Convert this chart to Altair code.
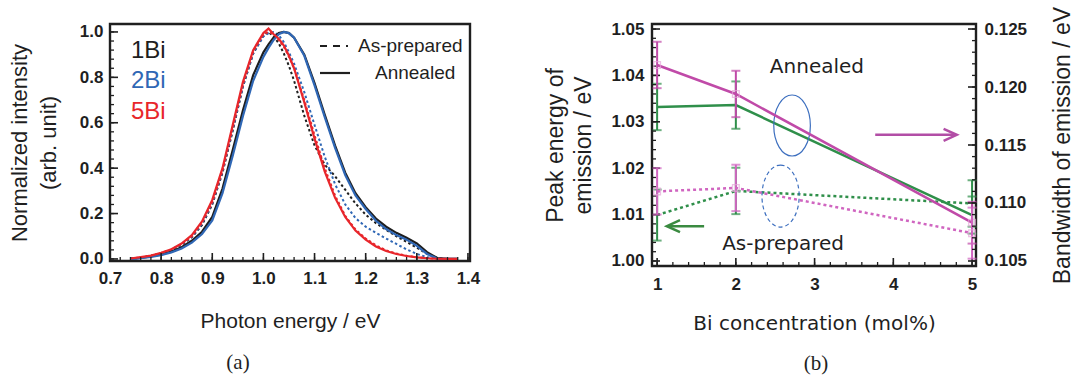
import altair as alt
import pandas as pd

FONT = "Liberation Sans"
INK = "#1f1f1f"

# ---------------- Panel (a): normalized emission spectra ----------------
energy = [0.74, 0.76, 0.78, 0.80, 0.82, 0.84, 0.86, 0.88, 0.90, 0.92, 0.94, 0.96, 0.98,
          1.00, 1.01, 1.02, 1.03, 1.04, 1.05, 1.06,
          1.08, 1.10, 1.12, 1.14, 1.16, 1.18, 1.20, 1.22, 1.24, 1.26, 1.28, 1.30, 1.32, 1.34, 1.36, 1.38]

bi1_asprep = [0.001, 0.006, 0.013, 0.024, 0.040, 0.062, 0.095, 0.150, 0.240, 0.380, 0.565, 0.760, 0.905,
              0.985, 1.000, 0.980, 0.950, 0.905, 0.850, 0.785,
              0.630, 0.500, 0.415, 0.365, 0.305, 0.245, 0.195, 0.158, 0.128, 0.100, 0.075, 0.050, 0.022, 0.004, 0.000, 0.000]
bi1_annealed = [0.000, 0.005, 0.011, 0.020, 0.033, 0.052, 0.080, 0.120, 0.185, 0.310, 0.480, 0.655, 0.810,
                0.910, 0.945, 0.975, 0.995, 1.000, 0.995, 0.975,
                0.900, 0.775, 0.635, 0.500, 0.380, 0.290, 0.228, 0.178, 0.142, 0.115, 0.093, 0.068, 0.030, 0.004, 0.001, 0.000]
bi2_asprep = [0.001, 0.006, 0.013, 0.024, 0.040, 0.063, 0.097, 0.155, 0.245, 0.385, 0.570, 0.760, 0.905,
              0.980, 0.995, 1.000, 0.985, 0.955, 0.910, 0.860,
              0.735, 0.590, 0.450, 0.330, 0.240, 0.180, 0.142, 0.115, 0.090, 0.066, 0.042, 0.022, 0.008, 0.001, 0.000, 0.000]
bi2_annealed = [0.000, 0.004, 0.009, 0.017, 0.029, 0.046, 0.072, 0.110, 0.170, 0.290, 0.455, 0.630, 0.785,
                0.890, 0.930, 0.965, 0.990, 1.000, 0.995, 0.975,
                0.895, 0.765, 0.625, 0.490, 0.370, 0.280, 0.220, 0.168, 0.132, 0.105, 0.085, 0.058, 0.022, 0.002, 0.000, 0.000]
bi5_asprep = [0.002, 0.007, 0.014, 0.026, 0.042, 0.066, 0.100, 0.160, 0.250, 0.390, 0.580, 0.770, 0.915,
              0.990, 1.000, 0.990, 0.965, 0.935, 0.890, 0.840,
              0.700, 0.545, 0.400, 0.280, 0.190, 0.130, 0.090, 0.060, 0.038, 0.024, 0.014, 0.008, 0.003, 0.001, 0.000, 0.000]
bi5_annealed = [0.002, 0.008, 0.015, 0.027, 0.043, 0.068, 0.105, 0.165, 0.260, 0.400, 0.590, 0.780, 0.920,
                0.995, 1.015, 0.990, 0.970, 0.940, 0.895, 0.840,
                0.690, 0.530, 0.385, 0.270, 0.185, 0.125, 0.085, 0.055, 0.035, 0.022, 0.013, 0.007, 0.003, 0.001, 0.000, 0.000]

samples = ["1Bi", "2Bi", "5Bi"]
sample_colors = ["#1e1e1e", "#2f67b5", "#e8262b"]
conditions = ["As-prepared", "Annealed"]

x_major_a = [0.7, 0.8, 0.9, 1.0, 1.1, 1.2, 1.3, 1.4]
y_major_a = [0.0, 0.2, 0.4, 0.6, 0.8, 1.0]
x_minor_a = [round(0.7 + 0.02 * i, 2) for i in range(36)]
y_minor_a = [round(0.04 * i, 2) for i in range(26)]

# ---------------- Panel (b): peak energy and bandwidth ----------------
conc = [1, 2, 5]
peak_annealed = [1.0332, 1.0336, 1.0099]
peak_annealed_err = [0.0050, 0.0051, 0.0040]
peak_asprep = [1.0099, 1.0151, 1.0124]
peak_asprep_err = [0.0055, 0.0050, 0.0050]
bw_annealed = [0.1219, 0.1194, 0.1083]
bw_annealed_err = [0.0020, 0.0020, 0.0018]
bw_asprep = [0.1110, 0.1113, 0.1074]
bw_asprep_err = [0.0020, 0.0020, 0.0022]

x_major_b = [1, 2, 3, 4, 5]
x_minor_b = [round(1 + 0.2 * i, 1) for i in range(21)]
yl_major_b = [1.00, 1.01, 1.02, 1.03, 1.04, 1.05]
yl_minor_b = [round(1.0 + 0.002 * i, 3) for i in range(26)]
yr_major_b = [0.105, 0.110, 0.115, 0.120, 0.125]
yr_minor_b = [round(0.105 + 0.001 * i, 3) for i in range(21)]

GREEN = "#2f8f4a"
MAGENTA = "#c04aa8"
MAGENTA_LIGHT = "#d065c0"

# ======================= Panel (a) =======================
WA, HA = 360, 237
xA_scale = alt.Scale(domain=[0.7, 1.404], nice=False, zero=False)
yA_scale = alt.Scale(domain=[-0.009, 1.035], nice=False, zero=False)

axA_x = alt.Axis(values=x_major_a, format=".1f", title="Photon energy / eV", grid=False, ticks=False,
                 domain=False, labelFont=FONT, labelFontSize=17, labelFontWeight="bold", labelColor=INK,
                 labelPadding=9, labelFlush=False, titleFont=FONT, titleFontSize=21,
                 titleFontWeight="normal", titleColor=INK, titlePadding=24)
axA_y = alt.Axis(values=y_major_a, format=".1f", title=["Normalized intensity", "(arb. unit)"],
                 grid=False, ticks=False, domain=False, labelFont=FONT, labelFontSize=17,
                 labelFontWeight="bold", labelColor=INK, labelPadding=7, labelFlush=False,
                 titleFont=FONT, titleFontSize=22, titleFontWeight="normal", titleColor=INK,
                 titlePadding=19, titleLineHeight=29)

rows = []
for s, c, vals in [("1Bi", "As-prepared", bi1_asprep), ("2Bi", "As-prepared", bi2_asprep),
                   ("5Bi", "As-prepared", bi5_asprep), ("1Bi", "Annealed", bi1_annealed),
                   ("2Bi", "Annealed", bi2_annealed), ("5Bi", "Annealed", bi5_annealed)]:
    for e, v in zip(energy, vals):
        rows.append({"E": e, "I": v, "sample": s, "cond": c})
df_a = pd.DataFrame(rows)

color_a = alt.Color("sample:N", scale=alt.Scale(domain=samples, range=sample_colors), legend=None)
XA = dict(scale=xA_scale, axis=axA_x)
YA = dict(scale=yA_scale, axis=axA_y)

lines_dot = alt.Chart(df_a[df_a.cond == "As-prepared"]).mark_line(
    strokeWidth=2, strokeDash=[2.5, 2.5]).encode(
    x=alt.X("E:Q", **XA), y=alt.Y("I:Q", **YA), color=color_a)
lines_solid = alt.Chart(df_a[df_a.cond == "Annealed"]).mark_line(strokeWidth=2.2).encode(
    x=alt.X("E:Q", **XA), y=alt.Y("I:Q", **YA), color=color_a)


def xticks(vals, xenc, h, length, width):
    return alt.Chart(pd.DataFrame({"v": vals})).mark_rule(color=INK, strokeWidth=width).encode(
        x=alt.X("v:Q", **xenc), y=alt.value(h), y2=alt.value(h - length))


def yticks(vals, yenc, x0, length, width):
    return alt.Chart(pd.DataFrame({"v": vals})).mark_rule(color=INK, strokeWidth=width).encode(
        y=alt.Y("v:Q", **yenc), x=alt.value(x0), x2=alt.value(x0 + length))


ticksA = [xticks(x_minor_a, XA, HA, 4, 1.3), xticks(x_major_a, XA, HA, 8, 1.6),
          yticks(y_minor_a, YA, 0, 4, 1.3), yticks(y_major_a, YA, 0, 8, 1.6)]

sample_labels = alt.Chart(pd.DataFrame({"t": samples, "px": [21, 21, 21], "py": [27, 57, 88]})).mark_text(
    align="left", baseline="middle", font=FONT, fontSize=24).encode(
    x=alt.X("px:Q", scale=None), y=alt.Y("py:Q", scale=None), text="t:N",
    color=alt.Color("t:N", scale=alt.Scale(domain=samples, range=sample_colors), legend=None))

leg_dash = alt.Chart(pd.DataFrame({"k": [0]})).mark_rule(color=INK, strokeWidth=2.2, strokeDash=[7, 6]).encode(
    x=alt.value(210), x2=alt.value(238), y=alt.value(22))
leg_solid = alt.Chart(pd.DataFrame({"k": [0]})).mark_rule(color=INK, strokeWidth=2.2).encode(
    x=alt.value(210), x2=alt.value(240), y=alt.value(49))
leg_text = alt.Chart(pd.DataFrame({"t": conditions, "px": [248, 265], "py": [22, 49]})).mark_text(
    align="left", baseline="middle", font=FONT, fontSize=19, color=INK).encode(
    x=alt.X("px:Q", scale=None), y=alt.Y("py:Q", scale=None), text="t:N")

label_a = alt.Chart(pd.DataFrame({"t": ["(a)"]})).mark_text(
    font="Liberation Serif", fontSize=21, color=INK, baseline="middle").encode(
    x=alt.value(128), y=alt.value(339), text="t:N")

panelA = alt.layer(lines_dot, lines_solid, *ticksA, sample_labels, leg_dash, leg_solid, leg_text,
                   label_a).properties(width=WA, height=HA)

# ======================= Panel (b) =======================
WB, HB = 324, 242
xB_scale = alt.Scale(domain=[0.935, 5.05], nice=False, zero=False)
yL_scale = alt.Scale(domain=[0.99892, 1.05108], nice=False, zero=False)
yR_scale = alt.Scale(domain=[0.104568, 0.125432], nice=False, zero=False)

axB_x = alt.Axis(values=x_major_b, format="d", title="Bi concentration (mol%)", grid=False, ticks=False,
                 domain=False, labelFont=FONT, labelFontSize=17, labelFontWeight="bold", labelColor=INK,
                 labelPadding=10, labelFlush=False, titleFont="DejaVu Sans", titleFontSize=20,
                 titleFontWeight="normal", titleColor=INK, titlePadding=21)
axB_yL = alt.Axis(values=yl_major_b, format=".2f", title=["Peak energy of", "emission / eV"], grid=False,
                  ticks=False, domain=False, labelFont=FONT, labelFontSize=17, labelFontWeight="bold",
                  labelColor=INK, labelPadding=8, labelFlush=False, titleFont=FONT, titleFontSize=23,
                  titleFontWeight="normal", titleColor=INK, titlePadding=15, titleLineHeight=28)
axB_yR = alt.Axis(orient="right", values=yr_major_b, format=".3f", title="Bandwidth of emission / eV",
                  grid=False, ticks=False, domain=False, labelFont=FONT, labelFontSize=17,
                  labelFontWeight="bold", labelColor=INK, labelPadding=8, labelFlush=False,
                  titleFont=FONT, titleFontSize=23, titleFontWeight="normal", titleColor=INK,
                  titlePadding=25, titleAngle=270, titleBaseline="top")

XB = dict(scale=xB_scale, axis=axB_x)
YL = dict(scale=yL_scale, axis=axB_yL)
YR = dict(scale=yR_scale, axis=axB_yR)


def series_df(vals, errs):
    return pd.DataFrame({"conc": conc, "v": vals,
                         "lo": [a - b for a, b in zip(vals, errs)],
                         "hi": [a + b for a, b in zip(vals, errs)]})


def series_layers(df, yenc, color, dash, markers=None):
    line_kw = dict(color=color, strokeWidth=2.5)
    if dash:
        line_kw["strokeDash"] = [3, 3]
    base = alt.Chart(df)
    layers = [
        base.mark_line(**line_kw).encode(x=alt.X("conc:Q", **XB), y=alt.Y("v:Q", **yenc)),
        base.mark_rule(color=color, strokeWidth=2).encode(
            x=alt.X("conc:Q", **XB), y=alt.Y("lo:Q", **yenc), y2="hi:Q"),
        base.mark_tick(color=color, orient="horizontal", size=9, thickness=2).encode(
            x=alt.X("conc:Q", **XB), y=alt.Y("lo:Q", **yenc)),
        base.mark_tick(color=color, orient="horizontal", size=9, thickness=2).encode(
            x=alt.X("conc:Q", **XB), y=alt.Y("hi:Q", **yenc)),
    ]
    if markers:
        layers.append(base.mark_point(shape="square", size=45, filled=False, color=markers,
                                      strokeWidth=1.3).encode(
            x=alt.X("conc:Q", **XB), y=alt.Y("v:Q", **yenc)))
    return layers


green_layers = (series_layers(series_df(peak_annealed, peak_annealed_err), YL, GREEN, False)
                + series_layers(series_df(peak_asprep, peak_asprep_err), YL, GREEN, True))
magenta_layers = (series_layers(series_df(bw_annealed, bw_annealed_err), YR, MAGENTA, False,
                                markers="#e6a6da")
                  + series_layers(series_df(bw_asprep, bw_asprep_err), YR, MAGENTA_LIGHT, True,
                                  markers="#e6a6da"))

# annotations (in data coordinates of the left axis)
ann_labels = ["Annealed", "As-prepared"]
ann_x = [3.03, 2.60]
ann_y = [1.0418, 1.0036]
ann_text = alt.Chart(pd.DataFrame({"t": ann_labels, "x": ann_x, "y": ann_y})).mark_text(
    font="DejaVu Sans", fontSize=20, color=INK, baseline="middle").encode(
    x=alt.X("x:Q", **XB), y=alt.Y("y:Q", **YL), text="t:N")

ELLIPSE = "M0,-1 A0.6,1 0 1,1 0,1 A0.6,1 0 1,1 0,-1 Z"
ell_solid = alt.Chart(pd.DataFrame({"x": [2.714], "y": [1.0292]})).mark_point(
    shape=ELLIPSE, size=3721, filled=False, color="#3d6fbf", strokeWidth=1.2, opacity=1).encode(
    x=alt.X("x:Q", **XB), y=alt.Y("y:Q", **YL))
ell_dash = alt.Chart(pd.DataFrame({"x": [2.568], "y": [1.014]})).mark_point(
    shape=ELLIPSE, size=3844, filled=False, color="#3d6fbf", strokeWidth=1.2, strokeDash=[4, 3],
    opacity=1).encode(
    x=alt.X("x:Q", **XB), y=alt.Y("y:Q", **YL))

arrow_mag = alt.Chart(pd.DataFrame({"x": [3.77], "x2": [4.79], "y": [1.0272]})).mark_rule(
    color="#b24ea6", strokeWidth=2.5).encode(
    x=alt.X("x:Q", **XB), x2="x2:Q", y=alt.Y("y:Q", **YL))
head_mag = alt.Chart(pd.DataFrame({"x": [4.806], "y": [1.0272]})).mark_point(
    shape="M-2.2,-1L0,0L-2.2,1", size=144, filled=False, color="#b24ea6", strokeWidth=2.5,
    opacity=1).encode(
    x=alt.X("x:Q", **XB), y=alt.Y("y:Q", **YL))
arrow_grn = alt.Chart(pd.DataFrame({"x": [1.14], "x2": [1.597], "y": [1.0075]})).mark_rule(
    color="#3a8a40", strokeWidth=2.5).encode(
    x=alt.X("x:Q", **XB), x2="x2:Q", y=alt.Y("y:Q", **YL))
head_grn = alt.Chart(pd.DataFrame({"x": [1.123], "y": [1.0075]})).mark_point(
    shape="M2.2,-1L0,0L2.2,1", size=144, filled=False, color="#3a8a40", strokeWidth=2.5,
    opacity=1).encode(
    x=alt.X("x:Q", **XB), y=alt.Y("y:Q", **YL))

label_b = alt.Chart(pd.DataFrame({"t": ["(b)"]})).mark_text(
    font="Liberation Serif", fontSize=21, color=INK, baseline="middle").encode(
    x=alt.value(164), y=alt.value(340), text="t:N")

ticksB_left = [xticks(x_minor_b, XB, HB, 4, 1.3), xticks(x_major_b, XB, HB, 8, 1.6),
               yticks(yl_minor_b, YL, 0, 4, 1.3), yticks(yl_major_b, YL, 0, 8, 1.6)]
ticksB_right = [yticks(yr_minor_b, YR, WB - 4, 4, 1.3), yticks(yr_major_b, YR, WB - 8, 8, 1.6)]

groupA = alt.layer(*green_layers, ann_text, ell_solid, ell_dash, arrow_mag, head_mag, arrow_grn, head_grn,
                   *ticksB_left, label_b)
groupB = alt.layer(*magenta_layers, *ticksB_right)

panelB = alt.layer(groupA, groupB).resolve_scale(y="independent").properties(width=WB, height=HB)

chart = alt.hconcat(panelA, panelB, spacing=62).properties(
    padding={"left": 7, "top": 5, "right": 0, "bottom": 0}, background="white"
).configure_view(stroke=INK, strokeWidth=2.4)

chart.save("out.html", embed_options={"renderer": "svg", "actions": False})
